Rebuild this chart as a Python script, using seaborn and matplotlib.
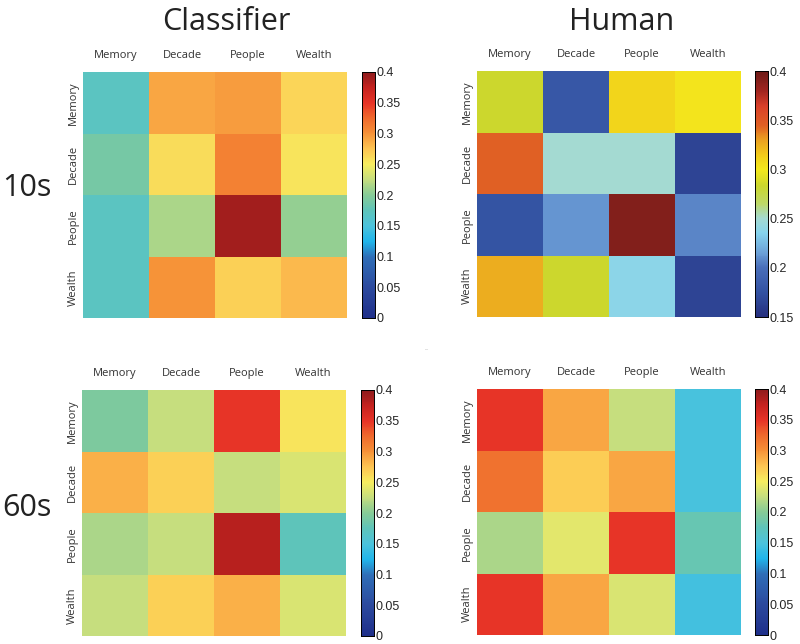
import numpy as np
import pandas as pd
import matplotlib
matplotlib.use("Agg")
import matplotlib.pyplot as plt
import seaborn as sns
from matplotlib.colors import LinearSegmentedColormap

sns.set_theme(style="white")
plt.rcParams['font.family'] = ['Open Sans', 'DejaVu Sans']

# ---- data ----
labels = ['Memory', 'Decade', 'People', 'Wealth']

clf_10s = [[0.170, 0.290, 0.295, 0.265],
           [0.190, 0.260, 0.310, 0.255],
           [0.170, 0.215, 0.390, 0.205],
           [0.170, 0.300, 0.268, 0.280]]

hum_10s = [[0.283, 0.180, 0.310, 0.302],
           [0.345, 0.250, 0.250, 0.165],
           [0.177, 0.212, 0.392, 0.207],
           [0.325, 0.283, 0.238, 0.165]]

clf_60s = [[0.195, 0.225, 0.350, 0.255],
           [0.285, 0.268, 0.225, 0.235],
           [0.215, 0.225, 0.380, 0.175],
           [0.225, 0.268, 0.285, 0.235]]

hum_60s = [[0.350, 0.290, 0.225, 0.148],
           [0.320, 0.270, 0.290, 0.148],
           [0.215, 0.240, 0.350, 0.180],
           [0.350, 0.290, 0.235, 0.145]]

# ---- colormaps ----
soft_jet = LinearSegmentedColormap.from_list('soft_jet', [
    (0.0, '#1f2f8a'), (0.125, '#2c4a9e'), (0.25, '#2f6fb8'),
    (0.31, '#21b5ea'), (0.375, '#4cc3dc'), (0.4375, '#5fc4b9'),
    (0.5, '#86cb97'), (0.5625, '#c4dd7f'), (0.625, '#f7ed5f'),
    (0.6875, '#fdc553'), (0.75, '#f69238'), (0.8125, '#ef6a2d'),
    (0.875, '#e73427'), (0.9375, '#c4221f'), (1.0, '#8e1b1c')])

def stop(v, lo=0.15, hi=0.4):
    return (v - lo) / (hi - lo)

human_jet = LinearSegmentedColormap.from_list('human_jet', [
    (stop(0.15), '#26307f'), (stop(0.175), '#3352a2'), (stop(0.2), '#4a6fba'),
    (stop(0.215), '#6ca0d7'), (stop(0.235), '#86d4ee'), (stop(0.25), '#a4dad2'),
    (stop(0.265), '#bdd96a'), (stop(0.283), '#cbd72d'), (stop(0.3), '#f3e81c'),
    (stop(0.315), '#f2cb1a'), (stop(0.33), '#eaa021'), (stop(0.345), '#e06024'),
    (stop(0.365), '#d9402a'), (stop(0.38), '#a02520'), (stop(0.4), '#6e1b17')])

full_ticks = [0, 0.05, 0.1, 0.15, 0.2, 0.25, 0.3, 0.35, 0.4]
panels = [
    (clf_10s, soft_jet, 0.0, 0.4, full_ticks, (83, 72, 362)),
    (hum_10s, human_jet, 0.15, 0.4, [0.15, 0.2, 0.25, 0.3, 0.35, 0.4], (477, 71, 755)),
    (clf_60s, soft_jet, 0.0, 0.4, full_ticks, (82, 390, 361)),
    (hum_60s, soft_jet, 0.0, 0.4, full_ticks, (477, 389, 755)),
]

W, H = 800, 644
fig = plt.figure(figsize=(W / 100, H / 100), dpi=100)

def px(x, y, w, h):
    return [x / W, 1 - (y + h) / H, w / W, h / H]

for vals, cmap, vmin, vmax, ticks, (x0, y0, cx) in panels:
    ax = fig.add_axes(px(x0, y0, 264, 246))
    cax = fig.add_axes(px(cx, y0, 13, 246))
    df = pd.DataFrame(vals, index=labels, columns=labels)
    sns.heatmap(df, ax=ax, cbar_ax=cax, cmap=cmap, vmin=vmin, vmax=vmax,
                cbar_kws={'ticks': ticks})
    ax.xaxis.tick_top()
    ax.tick_params(length=0, labelsize=8, colors='#333333')
    ax.tick_params(axis='x', pad=8)
    ax.set_yticklabels(labels, rotation=90, va='center')
    ax.tick_params(axis='y', pad=3)
    cax.tick_params(length=3, direction='in', width=0.6, pad=1, labelsize=9)
    cax.set_yticklabels([f'{t:g}' for t in ticks], family='Liberation Sans')
    for s in cax.spines.values():
        s.set_visible(True)
        s.set_linewidth(0.6)
        s.set_color('black')

title_kw = dict(ha='center', va='center', fontsize=22, color='#222222')
fig.text(226 / W, 1 - 22 / H, 'Classifier', **title_kw)
fig.text(622 / W, 1 - 22 / H, 'Human', **title_kw)
fig.text(27 / W, 1 - 188 / H, '10s', **title_kw)
fig.text(27 / W, 1 - 508 / H, '60s', **title_kw)
fig.text(427 / W, 1 - 349 / H, '...', ha='center', va='center', fontsize=4, color='#aaaaaa')

fig.savefig('out.png', dpi=100)
